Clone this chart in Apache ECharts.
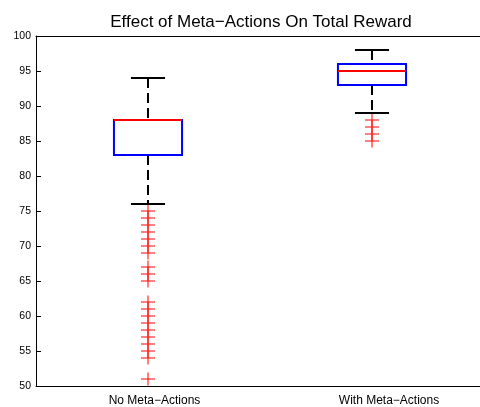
<!DOCTYPE html>
<html>
<head>
<meta charset="utf-8">
<script src="https://cdn.jsdelivr.net/npm/echarts@6/dist/echarts.min.js"></script>
<style>html,body{margin:0;padding:0;background:#fff;}#c{width:480px;height:407px;}</style>
</head>
<body>
<div id="c"></div>
<script>
const categories = ['No Meta\u2212Actions', 'With Meta\u2212Actions'];
// [lower whisker, Q1, median, Q3, upper whisker]
const statsNoMeta = [76, 83, 88, 88, 94];
const statsWithMeta = [89, 93, 95, 96, 98];
const outliersNoMeta = [75, 74, 73, 72, 71, 70, 69, 67, 66, 65, 62, 61, 60, 59, 58, 57, 56, 55, 54, 51];
const outliersWithMeta = [88, 87, 86, 85];
const yTicks = [50, 100, 5]; // min, max, interval

const boxData = [[0].concat(statsNoMeta), [1].concat(statsWithMeta)];
const outlierData = outliersNoMeta.map(v => [0, v]).concat(outliersWithMeta.map(v => [1, v]));

const FONT = 'Liberation Sans, Arial, Helvetica, sans-serif';
const chart = echarts.init(document.getElementById('c'), null, {renderer: 'canvas'});

function renderBox(params, api) {
  const idx = api.value(0);
  const lo = api.value(1), q1 = api.value(2), med = api.value(3), q3 = api.value(4), hi = api.value(5);
  const bw = api.size([1, 0])[0];
  const half = bw * 0.152;
  const capHalf = bw * 0.076;
  const pLo = api.coord([idx, lo]), pQ1 = api.coord([idx, q1]), pMed = api.coord([idx, med]);
  const pQ3 = api.coord([idx, q3]), pHi = api.coord([idx, hi]);
  const x = Math.round(pLo[0]);
  const dash = {stroke: '#000', lineWidth: 2, lineDash: [10, 5]};
  const solid = {stroke: '#000', lineWidth: 2};
  return {
    type: 'group',
    children: [
      {type: 'line', shape: {x1: x, y1: pHi[1], x2: x, y2: pQ3[1]}, style: dash},
      {type: 'line', shape: {x1: x, y1: pQ1[1], x2: x, y2: pLo[1]}, style: dash},
      {type: 'line', shape: {x1: x - capHalf, y1: pHi[1], x2: x + capHalf, y2: pHi[1]}, style: solid},
      {type: 'line', shape: {x1: x - capHalf, y1: pLo[1], x2: x + capHalf, y2: pLo[1]}, style: solid},
      {type: 'rect', shape: {x: x - half, y: pQ3[1], width: half * 2, height: pQ1[1] - pQ3[1]},
        style: {fill: 'none', stroke: '#0000ff', lineWidth: 2}},
      {type: 'line', shape: {x1: x - half, y1: pMed[1], x2: x + half, y2: pMed[1]},
        style: {stroke: '#ff0000', lineWidth: 2}}
    ]
  };
}

function renderOutlier(params, api) {
  const p = api.coord([api.value(0), api.value(1)]);
  const x = Math.round(p[0]), y = p[1];
  const st = {stroke: '#ff0000', lineWidth: 1};
  return {
    type: 'group',
    children: [
      {type: 'line', shape: {x1: x - 7, y1: y, x2: x + 7, y2: y}, style: st},
      {type: 'line', shape: {x1: x, y1: y - 6.5, x2: x, y2: y + 6.5}, style: st}
    ]
  };
}

const axisLineStyle = {color: '#000', width: 1};
chart.setOption({
  animation: false,
  backgroundColor: '#fff',
  title: {
    text: 'Effect of Meta\u2212Actions On Total Reward',
    left: 256, top: 9, textAlign: 'center',
    textStyle: {fontFamily: FONT, fontSize: 17, fontWeight: 'normal', color: '#000'}
  },
  grid: {left: 36, top: 36, width: 448, height: 350, outerBoundsMode: 'none', containLabel: false},
  xAxis: [{
    type: 'category', data: categories, position: 'bottom',
    axisLine: {lineStyle: axisLineStyle},
    axisTick: {inside: true, alignWithLabel: true, length: 5, lineStyle: axisLineStyle},
    axisLabel: {
      fontFamily: FONT, fontSize: 12, color: '#000', margin: 9,
      formatter: function (v, i) { return (i === 0 ? '{a|' : '{b|') + v + '}'; },
      rich: {
        a: {fontFamily: FONT, fontSize: 12, color: '#000', padding: [0, 0, 0, 13]},
        b: {fontFamily: FONT, fontSize: 12, color: '#000', padding: [0, 0, 0, 34]}
      }
    },
    splitLine: {show: false}
  }, {
    type: 'category', data: categories, position: 'top',
    axisLine: {lineStyle: axisLineStyle},
    axisTick: {inside: true, alignWithLabel: true, length: 5, lineStyle: axisLineStyle},
    axisLabel: {show: false},
    splitLine: {show: false}
  }],
  yAxis: {
    type: 'value', min: yTicks[0], max: yTicks[1], interval: yTicks[2],
    axisLine: {show: true, lineStyle: axisLineStyle},
    axisTick: {show: true, inside: true, length: 5, lineStyle: axisLineStyle},
    axisLabel: {fontFamily: FONT, fontSize: 10.5, color: '#000', margin: 5},
    splitLine: {show: false}
  },
  series: [{
    type: 'custom', name: 'outliers', data: outlierData,
    encode: {x: 0, y: 1}, renderItem: renderOutlier, clip: false, z: 2
  }, {
    type: 'custom', name: 'box', data: boxData,
    encode: {x: 0, y: [1, 2, 3, 4, 5]}, renderItem: renderBox, z: 3
  }]
});
</script>
</body>
</html>
